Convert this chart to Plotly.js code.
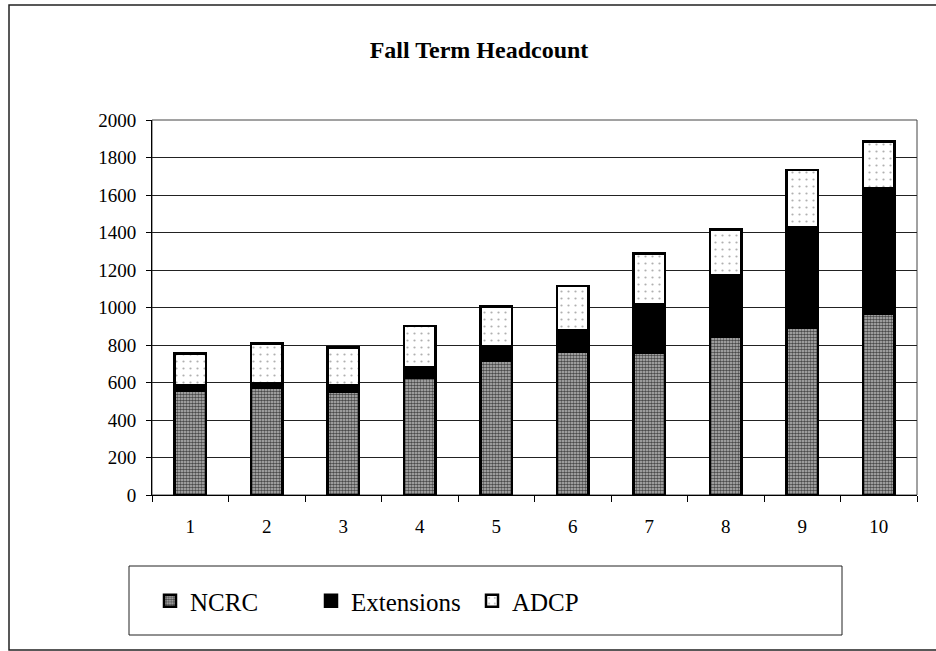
<!DOCTYPE html>
<html>
<head>
<meta charset="utf-8">
<script src="https://cdn.plot.ly/plotly-3.0.1.min.js"></script>
<style>
html,body{margin:0;padding:0;background:#fff;}
#chart{width:936px;height:651px;}
</style>
</head>
<body>
<div id="chart"></div>
<script>
const categories = ['1','2','3','4','5','6','7','8','9','10'];
const ncrc       = [558, 571, 549, 624, 715, 764, 757, 843, 892, 967];
const extensions = [ 27,  23,  34,  59,  76, 114, 262, 330, 536, 669];
const adcp       = [171, 213, 203, 218, 215, 237, 268, 244, 305, 250];
const seriesNames = ['NCRC', 'Extensions', 'ADCP'];
const yTicks = [0,200,400,600,800,1000,1200,1400,1600,1800,2000];

const serif = '"Times New Roman", "Liberation Serif", serif';
const outline = {color:'#000', width:2.5};

const traces = [
  {type:'bar', name:seriesNames[0], x:categories, y:ncrc,
   marker:{color:'#9a9a9a', line:outline,
           pattern:{shape:'.', bgcolor:'#c2c2c2', fgcolor:'#4a4a4a', size:3, solidity:0.6}}},
  {type:'bar', name:seriesNames[1], x:categories, y:extensions,
   marker:{color:'#000000', line:outline}},
  {type:'bar', name:seriesNames[2], x:categories, y:adcp,
   marker:{color:'#ffffff', line:outline,
           pattern:{shape:'.', bgcolor:'#ffffff', fgcolor:'#b0b0b0', size:7, solidity:0.08}}}
];

const W = 936, H = 651, L = 152, R = 19, T = 120, B = 156;
const pw = W - L - R, ph = H - T - B;
const px = v => (v - L) / pw;
const py = v => (H - B - v) / ph;

const layout = {
  width:W, height:H,
  margin:{l:L, r:R, t:T, b:B, pad:0},
  paper_bgcolor:'#fff', plot_bgcolor:'#fff',
  barmode:'stack', bargap:0.59,
  font:{family:serif, color:'#000', size:19},
  title:{text:'<b>Fall Term Headcount</b>', font:{family:serif, size:24, color:'#000'},
         xref:'container', yref:'container', x:479/W, y:1-50/H, xanchor:'center', yanchor:'middle'},
  xaxis:{type:'category', showline:true, linecolor:'#000', linewidth:1,
         ticks:'outside', ticklen:6, tickcolor:'#000', tickson:'boundaries',
         showgrid:false, ticklabelstandoff:14, tickfont:{family:serif, size:19, color:'#000'}},
  yaxis:{range:[0,2000], tickvals:yTicks, showline:true, linecolor:'#000', linewidth:1,
         ticks:'outside', ticklen:5, tickcolor:'#000', showgrid:true, gridcolor:'#222', gridwidth:1,
         zeroline:false, ticklabelstandoff:6, tickfont:{family:serif, size:19, color:'#000'}},
  showlegend:true,
  legend:{orientation:'h', x:px(150), y:py(601), xanchor:'left', yanchor:'middle',
          traceorder:'normal', font:{family:serif, size:25, color:'#000'},
          bgcolor:'rgba(0,0,0,0)', borderwidth:0, entrywidth:116, entrywidthmode:'pixels'},
  shapes:[
    {type:'rect', xref:'paper', yref:'paper', x0:0, x1:1, y0:0, y1:1,
     line:{color:'#444', width:1}, layer:'below'},
    {type:'rect', xref:'paper', yref:'paper', x0:px(129), x1:px(842), y0:py(635), y1:py(566),
     line:{color:'#222', width:1}},
    {type:'rect', xref:'paper', yref:'paper', x0:px(9), x1:px(945), y0:py(650), y1:py(5),
     line:{color:'#222', width:1.5}}
  ]
};

Plotly.newPlot('chart', traces, layout, {displayModeBar:false, staticPlot:true});
</script>
</body>
</html>
